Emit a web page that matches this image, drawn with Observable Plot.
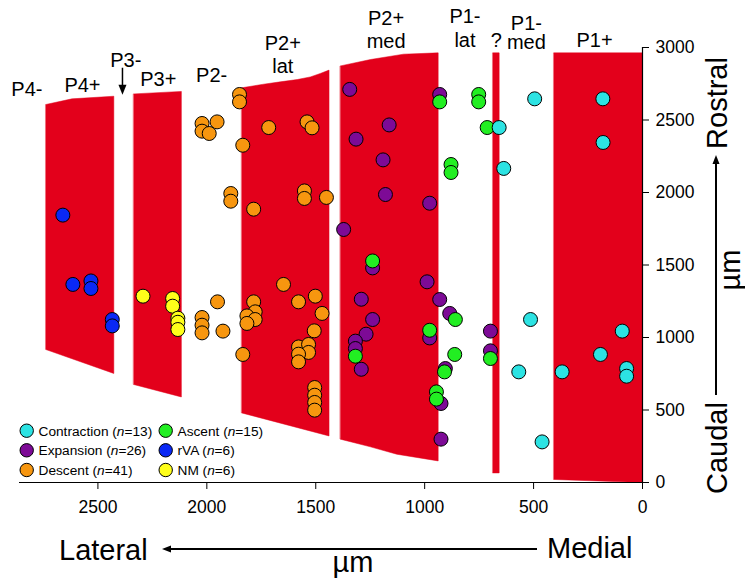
<!DOCTYPE html>
<html><head><meta charset="utf-8">
<script src="https://cdn.jsdelivr.net/npm/d3@7"></script>
<script src="https://cdn.jsdelivr.net/npm/@observablehq/plot@0.6"></script>
<style>
html,body{margin:0;padding:0;background:#fff;}
#chart{width:745px;height:579px;overflow:hidden;position:relative;}
</style></head><body><div id="chart"></div>
<script>
// ---- categories / legend ----
const categories = ["Contraction", "Expansion", "Descent", "Ascent", "rVA", "NM"];
const counts = [13, 26, 41, 15, 6, 6];
const colors = ["#2CE3E3", "#7D0A96", "#F7960F", "#22EE22", "#0A28F5", "#FFFF1A"];

// ---- points: [mediolateral µm, rostrocaudal µm] ----
const contraction = [[658,2448],[495,2646],[637,2166],[182,2646],[181,2345],[514,1124],[568,763],[461,280],[369,763],[193,883],[93,1044],[73,786],[73,733]];
const expansion = [[1344,2711],[1163,2466],[1315,2368],[1191,2225],[1180,1986],[977,1926],[1372,1745],[931,2676],[1239,1480],[1291,1264],[1239,1124],[1269,1023],[1318,975],[1318,924],[1291,781],[989,1384],[931,1262],[885,1166],[977,997],[905,786],[925,545],[925,299],[698,1044],[698,908]];
const descent = [[1850,2676],[1850,2625],[2022,2476],[1953,2487],[2022,2423],[1989,2407],[1835,2326],[1716,2448],[1540,2487],[1517,2446],[1890,1993],[1890,1940],[1785,1885],[1552,2011],[1552,1959],[1451,1966],[1951,1246],[2022,1138],[2022,1085],[2022,1032],[1926,1044],[1835,883],[1648,1366],[1785,1246],[1778,1177],[1816,1149],[1778,1124],[1816,1097],[1579,1246],[1502,1285],[1471,1166],[1507,1046],[1579,935],[1533,952],[1533,897],[1579,885],[1579,832],[1505,655],[1505,602],[1505,552],[1505,499]];
const ascent = [[931,2625],[752,2676],[752,2625],[713,2448],[879,2193],[879,2138],[1239,1528],[1318,871],[859,1124],[977,1050],[862,883],[909,763],[946,625],[946,575],[698,855]];
const rva = [[2661,1844],[2615,1366],[2532,1390],[2532,1338],[2434,1124],[2434,1080]];
const nm = [[2293,1285],[2157,1269],[2157,1216],[2133,1133],[2133,1105],[2133,1055]];

// ---- region outlines (µm) ----
const regionNames = ["P4+", "P3+", "P2+ lat", "P2+ med", "?", "P1+"];
const regionP4plus = [[2739,2607],[2619,2646],[2427,2664],[2427,752],[2739,917]];
const regionP3plus = [[2336,2680],[2117,2697],[2117,590],[2336,676]];
const regionP2plusLat = [[1840,2722],[1739,2747],[1663,2763],[1585,2779],[1525,2797],[1479,2821],[1439,2844],[1439,321],[1840,480]];
const regionP2plusMed = [[1387,2873],[1249,2917],[1097,2954],[938,2963],[938,149],[1128,195],[1249,246],[1387,299]];
const regionQuery = [[687,2963],[658,2963],[658,66],[687,66]];
const regionP1plus = [[407,2963],[0,2963],[0,0],[407,21]];

// ---- ticks ----
const xTicks = [0, 500, 1000, 1500, 2000, 2500];
const yTicks = [0, 500, 1000, 1500, 2000, 2500, 3000];

// ---- region labels (anchored at baseline of last line) ----
const labelTexts = ["P4-", "P4+", "P3-", "P3+", "P2-", "P2+\nlat", "P2+\nmed", "P1-\nlat", "?", "P1-\nmed", "P1+"];
const labelX = [2826, 2571, 2372, 2223, 1978, 1651, 1177, 815, 671, 533, 220];
const labelY = [2664, 2692, 2864, 2733, 2761, 2823, 2995, 3002, 3002, 2992, 3002];
const labelLineHeight = [1.17, 1.17, 1.17, 1.17, 1.17, 1.15, 1.15, 1.2, 1.17, 0.92, 1.17];
const p3Arrow = {x: 2385, from: 2857, to: 2671};

// ---- build tables ----
const seriesList = [contraction, expansion, descent, ascent, rva, nm];
const drawOrder = [2, 1, 3, 0, 4, 5];
const points = [];
for (const i of drawOrder) for (const [x, y] of seriesList[i]) points.push({x, y, category: categories[i]});
const regionList = [regionP4plus, regionP3plus, regionP2plusLat, regionP2plusMed, regionQuery, regionP1plus];
const regionRows = [];
regionList.forEach((poly, i) => poly.forEach(([x, y]) => regionRows.push({x, y, region: regionNames[i]})));
const labels = labelTexts.map((t, i) => ({text: t, x: labelX[i], y: labelY[i], lh: labelLineHeight[i]}));
const lineHeights = [...new Set(labelLineHeight)];

const FONT = "'Liberation Sans', Arial, Helvetica, sans-serif";
const RED = "#E3001B";

const plot = Plot.plot({
  width: 745, height: 579,
  marginLeft: 19, marginRight: 103, marginTop: 47, marginBottom: 97,
  x: {domain: [2860, 0]},
  y: {domain: [0, 3000]},
  color: {domain: categories, range: colors},
  style: {fontFamily: FONT, fontSize: "17.5px", color: "#000", background: "#fff", overflow: "visible"},
  marks: [
    Plot.line(regionRows, {x: "x", y: "y", z: "region", fill: RED, stroke: RED, strokeWidth: 0.5, curve: "linear-closed"}),
    Plot.ruleY([0], {stroke: "#000", strokeWidth: 1.2}),
    Plot.ruleX([0], {stroke: "#000", strokeWidth: 1.2}),
    Plot.axisX({ticks: xTicks, anchor: "bottom", tickSize: 7, tickPadding: 11, label: null, fontSize: 17.5, tickFormat: d => String(d)}),
    Plot.axisY({ticks: yTicks, anchor: "right", tickSize: 6, tickPadding: 7, label: null, fontSize: 17.5, tickFormat: d => String(d)}),
    Plot.dot(points, {x: "x", y: "y", fill: "category", r: 7, stroke: "#000", strokeWidth: 1}),
    ...lineHeights.map(lh => Plot.text(labels.filter(d => d.lh === lh), {
      x: "x", y: "y", text: "text", fontSize: 20, lineAnchor: "bottom", lineHeight: lh, textAnchor: "middle", fill: "#000"
    }))
  ]
});

document.getElementById("chart").appendChild(plot);

const svg = d3.select(plot);
const sx = plot.scale("x"), sy = plot.scale("y");
const g = svg.append("g").attr("font-family", FONT).attr("fill", "#000").attr("text-anchor", "start");

function arrow(x1, y1, x2, y2, len, half, w) {
  const dx = x2 - x1, dy = y2 - y1, L = Math.hypot(dx, dy), ux = dx / L, uy = dy / L;
  const bx = x2 - ux * len, by = y2 - uy * len;
  g.append("line").attr("x1", x1).attr("y1", y1).attr("x2", bx + ux).attr("y2", by + uy)
    .attr("stroke", "#000").attr("stroke-width", w);
  g.append("path").attr("d", `M${x2},${y2}L${bx - uy * half},${by + ux * half}L${bx + uy * half},${by - ux * half}Z`).attr("fill", "#000");
}

// P3- arrow
const ax = sx.apply(p3Arrow.x);
arrow(ax, sy.apply(p3Arrow.from), ax, sy.apply(p3Arrow.to), 10, 4, 1.5);

// bottom: Lateral <—— Medial
g.append("text").attr("x", 59).attr("y", 560).attr("font-size", 29).attr("text-anchor", "start").text("Lateral");
g.append("text").attr("x", 547).attr("y", 558).attr("font-size", 29).attr("text-anchor", "start").text("Medial");
arrow(537, 549, 162, 549, 9, 3.5, 2);
g.append("text").attr("x", 353).attr("y", 572).attr("font-size", 29).attr("text-anchor", "middle").text("µm");

// right: Caudal ——> Rostral
g.append("text").attr("transform", "translate(727,103) rotate(-90)").attr("font-size", 29).attr("text-anchor", "middle").text("Rostral");
g.append("text").attr("transform", "translate(727,448) rotate(-90)").attr("font-size", 29).attr("text-anchor", "middle").text("Caudal");
g.append("text").attr("transform", "translate(740,270) rotate(-90)").attr("font-size", 29).attr("text-anchor", "middle").text("µm");
arrow(716, 395, 716, 155, 9, 3.5, 2);

// legend
const colX = [26.7, 165.7], rowY = [430.7, 450.3, 470];
categories.forEach((c, i) => {
  const cx = colX[Math.floor(i / 3)], cy = rowY[i % 3];
  g.append("circle").attr("cx", cx).attr("cy", cy).attr("r", 6.7).attr("fill", colors[i]).attr("stroke", "#000").attr("stroke-width", 1);
  const t = g.append("text").attr("x", cx + 11.8).attr("y", cy + 5).attr("font-size", 13.7).attr("text-anchor", "start");
  t.append("tspan").text(`${c} (`);
  t.append("tspan").attr("font-style", "italic").text("n");
  t.append("tspan").text(`=${counts[i]})`);
});
</script>
</body></html>
